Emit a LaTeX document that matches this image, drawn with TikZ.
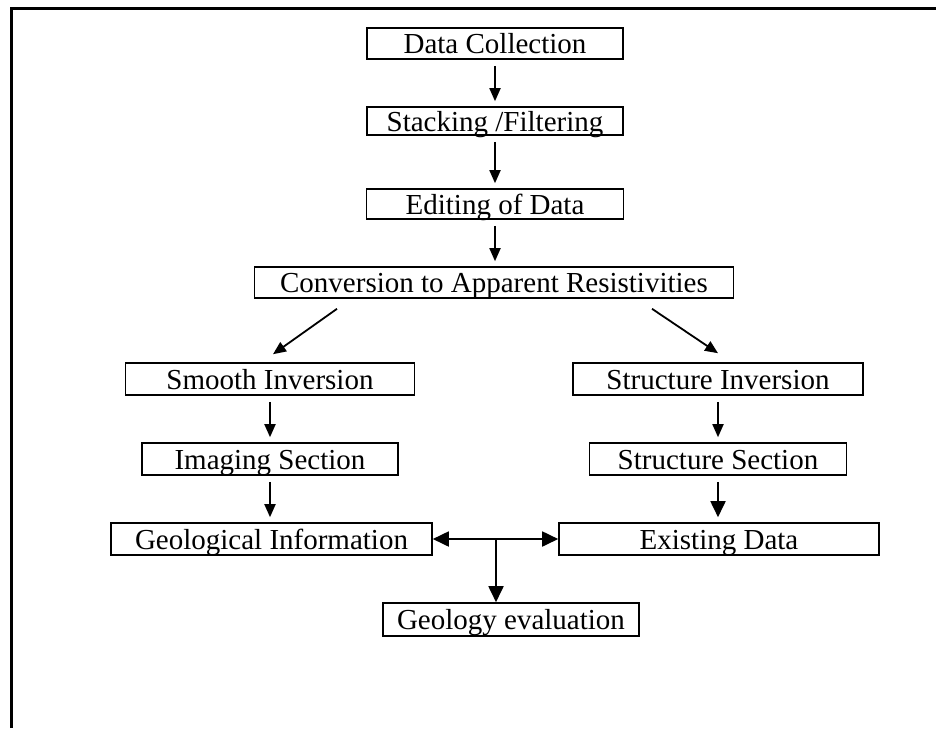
\documentclass[tikz,border=0pt]{standalone}
\usepackage{fontspec}
\setmainfont{Liberation Serif}
\usetikzlibrary{arrows.meta}
\tikzset{
    stage/.style={draw, line width=0.8pt, inner xsep=0pt, inner ysep=0pt, text height=12pt, text depth=2pt, minimum height=16pt, font=\fontsize{14.5}{17}\selectfont},
    flow/.style={-{Triangle[length=6.5pt,width=5.5pt]}, line width=0.9pt, shorten <=3pt, shorten >=2.5pt},
    bigtip/.tip={Triangle[length=8pt,width=7.5pt]},
}

\begin{document}
\begin{tikzpicture}[x=0.5pt, y=-0.5pt]
    \useasboundingbox (0,0) rectangle (936,728);
    \draw [line width=1.5pt] (11,728) -- (11,8) -- (936,8);
    \node (dc) at (495,43.5) [stage, minimum width=128pt, minimum height=15.5pt] {Data Collection};
    \node (sf) at (495,121) [stage, minimum width=128pt, minimum height=14pt] {Stacking /Filtering};
    \node (edit) at (495,204) [stage, minimum width=128.5pt, minimum height=15pt] {Editing of Data};
    \node (conv) at (494,282.5) [stage, minimum width=239.5pt, minimum height=15.5pt] {Conversion to Apparent Resistivities};
    \node (smooth) at (270,379) [stage, minimum width=144.5pt] {Smooth Inversion};
    \node (imaging) at (270,459) [stage, minimum width=128pt] {Imaging Section};
    \node (geoinfo) at (271.5,539) [stage, minimum width=160.5pt] {Geological Information};
    \node (strinv) at (718,379) [stage, minimum width=145pt] {Structure Inversion};
    \node (strsec) at (718,459) [stage, minimum width=128.5pt] {Structure Section};
    \node (exist) at (719,539) [stage, minimum width=160pt] {Existing Data};
    \node (geoeval) at (511,619.5) [stage, minimum width=128pt, minimum height=16.5pt] {Geology evaluation};
    \coordinate (jn) at (496,539);
    \draw [flow] (dc.south) -- (sf.north);
    \draw [flow] (sf.south) -- (edit.north);
    \draw [flow] (edit.south) -- (edit.south |- conv.north);
    \draw [flow, shorten <=0pt, shorten >=0pt] ([shift={(-157,10)}]conv.south) -- ([shift={(3,-8)}]smooth.north);
    \draw [flow, shorten <=0pt, shorten >=0pt] ([shift={(158,10)}]conv.south) -- ([shift={(0,-9)}]strinv.north);
    \draw [flow] (smooth.south) -- (imaging.north);
    \draw [flow] (imaging.south) -- (imaging.south |- geoinfo.north);
    \draw [flow] (strinv.south) -- (strsec.north);
    \draw [flow, -bigtip] (strsec.south) -- (strsec.south |- exist.north);
    \draw [bigtip-bigtip, line width=0.9pt] (geoinfo.east) -- (exist.west);
    \draw [-bigtip, line width=0.9pt] (jn) -- (jn |- geoeval.north);
\end{tikzpicture}
\end{document}
